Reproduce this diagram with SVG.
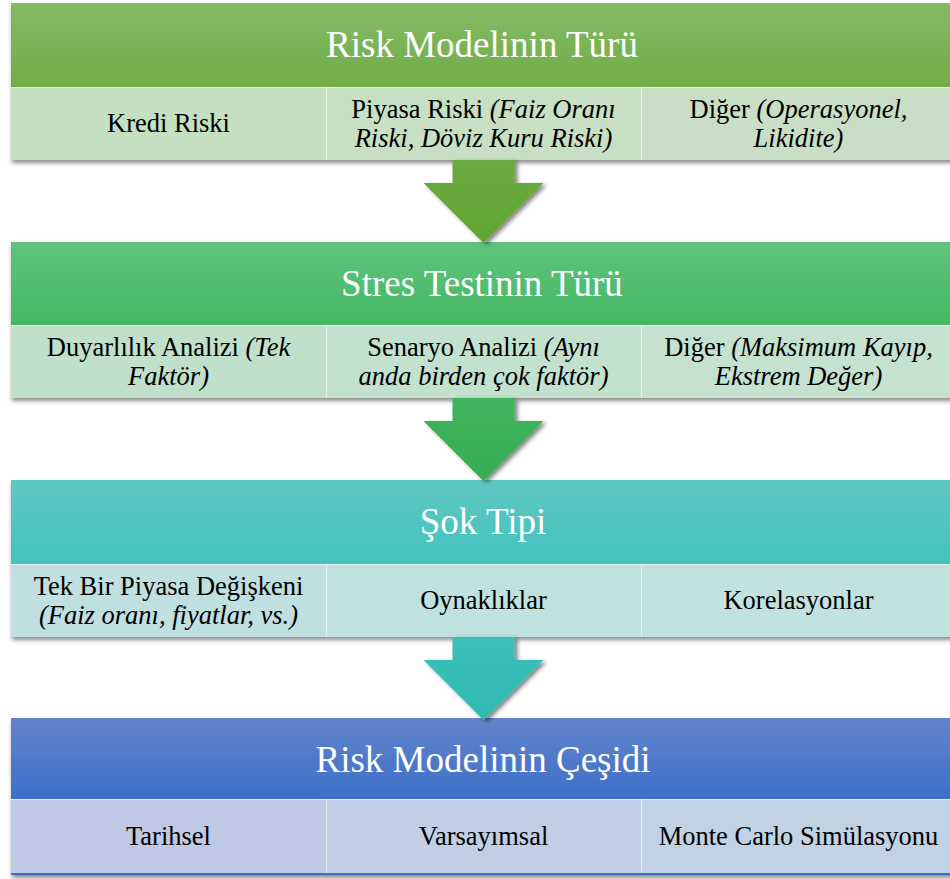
<svg xmlns="http://www.w3.org/2000/svg" width="950" height="879" viewBox="0 0 950 879">
  <defs>
    <linearGradient id="hd1" x1="0" y1="0" x2="0" y2="1">
      <stop offset="0" stop-color="#85ba66"/>
      <stop offset="1" stop-color="#70ad47"/>
    </linearGradient>
    <linearGradient id="hd2" x1="0" y1="0" x2="0" y2="1">
      <stop offset="0" stop-color="#60c37d"/>
      <stop offset="1" stop-color="#45b863"/>
    </linearGradient>
    <linearGradient id="hd3" x1="0" y1="0" x2="0" y2="1">
      <stop offset="0" stop-color="#5fc7c2"/>
      <stop offset="1" stop-color="#45c2bd"/>
    </linearGradient>
    <linearGradient id="hd4" x1="0" y1="0" x2="0" y2="1">
      <stop offset="0" stop-color="#6285cb"/>
      <stop offset="1" stop-color="#3d6fca"/>
    </linearGradient>
    <linearGradient id="ar1" x1="0" y1="0" x2="0" y2="1">
      <stop offset="0" stop-color="#6cab40"/>
      <stop offset="1" stop-color="#60a434"/>
    </linearGradient>
    <linearGradient id="ar2" x1="0" y1="0" x2="0" y2="1">
      <stop offset="0" stop-color="#40b45c"/>
      <stop offset="1" stop-color="#34ad52"/>
    </linearGradient>
    <linearGradient id="ar3" x1="0" y1="0" x2="0" y2="1">
      <stop offset="0" stop-color="#3cc0b9"/>
      <stop offset="1" stop-color="#31b9b1"/>
    </linearGradient>
    <filter id="boxShadow" x="-5%" y="-10%" width="110%" height="130%">
      <feDropShadow dx="1" dy="3" stdDeviation="2" flood-color="#000" flood-opacity="0.45"/>
    </filter>
    <filter id="arrowShadow" x="-20%" y="-20%" width="140%" height="140%">
      <feDropShadow dx="3" dy="2" stdDeviation="2" flood-color="#000" flood-opacity="0.5"/>
    </filter>
    <path id="arrowShape" d="M-31,0 L31,0 L31,23 L60,23 L0,83 L-60,23 L-31,23 Z"/>
  </defs>
  <style>
    .title { font-family: "Liberation Serif", "Times New Roman", serif; font-size: 37px; fill: #ffffff; text-anchor: middle; }
    .cell { font-family: "Liberation Serif", "Times New Roman", serif; font-size: 26.5px; fill: #000000; text-anchor: middle; }
    .it { font-style: italic; }
    .sep { stroke: #ffffff; stroke-opacity: 0.55; stroke-width: 1; }
  </style>
  <rect width="950" height="879" fill="#ffffff"/>

  <!-- Level 1: risk model type -->
  <g id="risk-modelinin-turu">
    <g filter="url(#boxShadow)">
      <rect x="11" y="3" width="945" height="84" fill="url(#hd1)"/>
      <rect x="11" y="87" width="315" height="73" fill="#c5dfc1"/>
      <rect x="326" y="87" width="315" height="73" fill="#c7dfc3"/>
      <rect x="641" y="87" width="315" height="73" fill="#c9dfc5"/>
    </g>
    <line class="sep" x1="11" y1="87.5" x2="956" y2="87.5"/>
    <line class="sep" x1="326.5" y1="87" x2="326.5" y2="160"/>
    <line class="sep" x1="641.5" y1="87" x2="641.5" y2="160"/>
    <text class="title" x="482" y="57">Risk Modelinin Türü</text>
    <text class="cell" x="168.5" y="132">Kredi Riski</text>
    <text class="cell" x="483.5" y="117.75">Piyasa Riski <tspan class="it">(Faiz Oranı</tspan></text>
    <text class="cell it" x="483.5" y="146.75">Riski, Döviz Kuru Riski)</text>
    <text class="cell" x="798.5" y="117.75">Diğer <tspan class="it">(Operasyonel,</tspan></text>
    <text class="cell it" x="798.5" y="146.75">Likidite)</text>
  </g>

  <!-- Level 2: stress test type -->
  <g id="stres-testinin-turu">
    <g filter="url(#boxShadow)">
      <rect x="11" y="242" width="945" height="83" fill="url(#hd2)"/>
      <rect x="11" y="325" width="315" height="73" fill="#c0e0cc"/>
      <rect x="326" y="325" width="315" height="73" fill="#c3e1cf"/>
      <rect x="641" y="325" width="315" height="73" fill="#c5e2d1"/>
    </g>
    <line class="sep" x1="11" y1="325.5" x2="956" y2="325.5"/>
    <line class="sep" x1="326.5" y1="325" x2="326.5" y2="398"/>
    <line class="sep" x1="641.5" y1="325" x2="641.5" y2="398"/>
    <text class="title" x="482" y="296">Stres Testinin Türü</text>
    <text class="cell" x="168.5" y="355.75">Duyarlılık Analizi <tspan class="it">(Tek</tspan></text>
    <text class="cell it" x="168.5" y="384.75">Faktör)</text>
    <text class="cell" x="483.5" y="355.75">Senaryo Analizi <tspan class="it">(Aynı</tspan></text>
    <text class="cell it" x="483.5" y="384.75">anda birden çok faktör)</text>
    <text class="cell" x="798.5" y="355.75">Diğer <tspan class="it">(Maksimum Kayıp,</tspan></text>
    <text class="cell it" x="798.5" y="384.75">Ekstrem Değer)</text>
  </g>

  <!-- Level 3: shock type -->
  <g id="sok-tipi">
    <g filter="url(#boxShadow)">
      <rect x="11" y="480" width="945" height="84" fill="url(#hd3)"/>
      <rect x="11" y="564" width="315" height="73" fill="#bfdfe1"/>
      <rect x="326" y="564" width="315" height="73" fill="#c0e2df"/>
      <rect x="641" y="564" width="315" height="73" fill="#c1e2df"/>
    </g>
    <line class="sep" x1="11" y1="564.5" x2="956" y2="564.5"/>
    <line class="sep" x1="326.5" y1="564" x2="326.5" y2="637"/>
    <line class="sep" x1="641.5" y1="564" x2="641.5" y2="637"/>
    <text class="title" x="483" y="534">Şok Tipi</text>
    <text class="cell" x="168.5" y="594.75">Tek Bir Piyasa Değişkeni</text>
    <text class="cell it" x="168.5" y="623.75">(Faiz oranı, fiyatlar, vs.)</text>
    <text class="cell" x="483.5" y="609">Oynaklıklar</text>
    <text class="cell" x="798.5" y="609">Korelasyonlar</text>
  </g>

  <!-- Level 4: risk model variety -->
  <g id="risk-modelinin-cesidi">
    <g filter="url(#boxShadow)">
      <rect x="11" y="718" width="945" height="81" fill="url(#hd4)"/>
      <rect x="11" y="799" width="315" height="74" fill="#bfc9e5"/>
      <rect x="326" y="799" width="315" height="74" fill="#c0cfe5"/>
      <rect x="641" y="799" width="315" height="74" fill="#c1d2e5"/>
      <rect x="11" y="873" width="945" height="2" fill="#3d6cc4"/>
    </g>
    <line class="sep" x1="11" y1="799.5" x2="956" y2="799.5"/>
    <line class="sep" x1="326.5" y1="799" x2="326.5" y2="873"/>
    <line class="sep" x1="641.5" y1="799" x2="641.5" y2="873"/>
    <text class="title" x="483" y="772">Risk Modelinin Çeşidi</text>
    <text class="cell" x="168.5" y="844.75">Tarihsel</text>
    <text class="cell" x="483.5" y="844.75">Varsayımsal</text>
    <text class="cell" x="798.5" y="844.75">Monte Carlo Simülasyonu</text>
  </g>

  <!-- Downward block arrows between levels -->
  <g id="connectors">
    <use href="#arrowShape" x="483.5" y="160" fill="url(#ar1)" filter="url(#arrowShadow)"/>
    <use href="#arrowShape" x="483.5" y="398" fill="url(#ar2)" filter="url(#arrowShadow)"/>
    <use href="#arrowShape" x="483.5" y="637" fill="url(#ar3)" filter="url(#arrowShadow)"/>
  </g>
</svg>
